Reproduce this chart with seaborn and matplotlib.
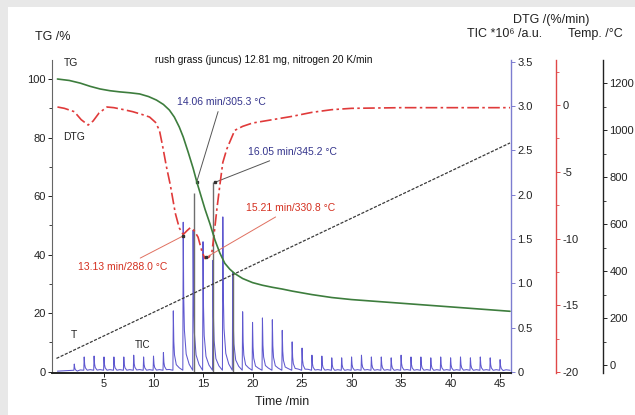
import matplotlib
matplotlib.use("Agg")

import pandas as pd
import matplotlib.pyplot as plt
import seaborn as sns
from matplotlib.patches import Rectangle
from matplotlib.ticker import MultipleLocator, FuncFormatter

# TG curve, mass in %
tg_time = [0.3, 1.5, 2.6, 3.6, 4.6, 5.6, 6.6, 7.6, 8.6, 9.5, 10.3, 11.0, 11.6, 12.1,
           12.6, 13.0, 13.5, 14.0, 14.4, 14.8, 15.2, 15.7, 16.2, 16.7, 17.2, 17.7,
           18.2, 19.0, 20.0, 21.0, 22.0, 23.0, 24.0, 26.0, 28.0, 30.0, 32.0, 34.0,
           36.0, 38.0, 40.0, 42.0, 44.0, 46.0]
tg_mass = [100.0, 99.5, 98.6, 97.5, 96.6, 96.0, 95.6, 95.3, 94.9, 94.0, 92.8, 91.3,
           89.4, 87.0, 83.6, 80.2, 75.0, 69.5, 64.5, 60.0, 55.5, 50.5, 45.0, 40.5,
           37.0, 35.0, 33.5, 31.8, 30.4, 29.5, 28.8, 28.2, 27.5, 26.3, 25.3, 24.6,
           24.1, 23.6, 23.1, 22.6, 22.1, 21.6, 21.1, 20.6]

# DTG curve, %/min
dtg_time = [0.3, 1.0, 2.0, 2.7, 3.4, 3.9, 4.5, 5.3, 6.0, 7.0, 7.9, 8.8, 9.6, 10.2,
            10.6, 10.9, 11.3, 11.7, 12.2, 12.6, 13.0, 13.4, 13.7, 14.1, 14.5, 14.9,
            15.2, 15.6, 15.9, 16.1, 16.4, 16.7, 17.0, 17.4, 17.8, 18.2, 19.0, 20.0,
            22.0, 24.0, 26.0, 28.0, 30.0, 35.0, 40.0, 46.0]
dtg_rate = [-0.15, -0.25, -0.5, -1.1, -1.5, -1.2, -0.6, -0.15, -0.2, -0.35, -0.5,
            -0.7, -0.9, -1.3, -1.9, -3.0, -4.6, -6.0, -8.1, -9.2, -9.7, -9.4, -9.2,
            -9.4, -9.9, -11.0, -11.5, -11.4, -11.0, -9.8, -7.8, -6.0, -4.3, -3.3,
            -2.6, -1.9, -1.6, -1.35, -1.1, -0.85, -0.55, -0.35, -0.25, -0.2, -0.2, -0.2]

# furnace temperature
temp_time = [0.2, 46.0]
temp_degc = [28, 945]

# TIC peaks (one sample per minute), *10^6 a.u.
tic_time = list(range(2, 46))
tic_height = [0.09, 0.17, 0.18, 0.17, 0.17, 0.17, 0.19, 0.17, 0.18, 0.22, 0.69,
              1.69, 1.60, 1.47, 1.26, 1.75, 1.13, 0.68, 0.56, 0.61, 0.59, 0.47,
              0.34, 0.27, 0.19, 0.18, 0.16, 0.16, 0.17, 0.19, 0.17, 0.17, 0.16,
              0.19, 0.17, 0.17, 0.16, 0.17, 0.16, 0.17, 0.16, 0.17, 0.16, 0.14]

# spectra picked for evaluation
mark_time = [14.06, 16.05, 18.0]
mark_height = [2.02, 2.14, 1.13]

W, H = 635, 415

sns.set_theme(style="white")
plt.rcParams["font.family"] = ["Liberation Sans", "DejaVu Sans"]
plt.rcParams["axes.unicode_minus"] = False

fig = plt.figure(figsize=(W / 100, H / 100), dpi=100, facecolor="#e8e8e8")
fig.patches.append(Rectangle((8 / W, 0), 1, 1 - 7 / H, transform=fig.transFigure,
                             facecolor="white", edgecolor="none", zorder=-5))

ax = fig.add_axes([52 / W, 1 - 373 / H, 459 / W, 313 / H])
ax_tic = ax.twinx()
ax_dtg = ax.twinx()
ax_tmp = ax.twinx()
ax.set_zorder(2)
ax.patch.set_visible(False)

# TIC trace built from the peak list (sharp rise, short tail)
xs, ys = [0.3], [0.01]
for t, h in zip(tic_time, tic_height):
    xs += [t - 0.04, t, t + 0.05, t + 0.12, t + 0.3, t + 0.6]
    ys += [0.02, h, 0.5 * h, 0.28 * h, 0.12 * h, 0.02 + 0.04 * h]
xs.append(46.0)
ys.append(0.02)
tic_df = pd.DataFrame({"t": xs, "v": ys})
sns.lineplot(data=tic_df, x="t", y="v", ax=ax_tic, color="#5f58cf", lw=0.75,
             sort=False, estimator=None)
ax_tic.vlines(mark_time, 0, mark_height, color="#6e6e6e", lw=1.0)

sns.lineplot(x=temp_time, y=temp_degc, ax=ax_tmp, color="#3a3a3a", lw=0.9,
             linestyle=(0, (2.5, 1.2)))
sns.lineplot(x=dtg_time, y=dtg_rate, ax=ax_dtg, color="#e03a3a", lw=1.2,
             linestyle=(0, (7, 2, 1.5, 2)))
sns.lineplot(x=tg_time, y=tg_mass, ax=ax, color="#3d7d3d", lw=1.2)

# axes ranges
ax.set_xlim(-0.25, 46.1)
ax.set_ylim(-0.5, 106.5)
ax_tic.set_ylim(-0.011, 3.52)
ax_dtg.set_ylim(-20.07, 3.37)
ax_tmp.set_ylim(-34, 1298)

for a in (ax, ax_tic, ax_dtg, ax_tmp):
    a.set_xlabel("")
    a.set_ylabel("")
    a.grid(False)

# main axes: TG and time
ax.spines["top"].set_visible(False)
ax.spines["right"].set_visible(False)
ax.spines["left"].set_color("#666666")
ax.spines["left"].set_linewidth(0.8)
ax.spines["bottom"].set_color("#222222")
ax.spines["bottom"].set_linewidth(1.4)
ax.set_xticks(range(5, 46, 5))
ax.set_yticks(range(0, 101, 20))
ax.yaxis.set_minor_locator(MultipleLocator(10))
ax.tick_params(axis="both", which="both", direction="out", labelsize=8, pad=1.5,
               colors="#222222")
ax.tick_params(axis="both", which="major", length=3, width=0.7)
ax.tick_params(axis="y", which="minor", length=2, width=0.6, left=True)
ax.tick_params(axis="x", bottom=True)

twins = [(ax_tic, "#7d7dd0", None), (ax_dtg, "#e04848", 1 + 45 / 459),
         (ax_tmp, "#222222", 1 + 92 / 459)]
for a, col, pos in twins:
    for side in ("top", "left", "bottom"):
        a.spines[side].set_visible(False)
    a.spines["right"].set_color(col)
    a.spines["right"].set_linewidth(1.0)
    if pos is not None:
        a.spines["right"].set_position(("axes", pos))
    a.tick_params(axis="y", which="both", direction="out", right=True,
                  labelsize=8, pad=1.5, color=col, labelcolor="#222222")
    a.tick_params(axis="y", which="major", length=3, width=0.7)
    a.tick_params(axis="y", which="minor", length=2, width=0.6)

ax_tic.set_yticks([0, 0.5, 1.0, 1.5, 2.0, 2.5, 3.0, 3.5])
ax_tic.yaxis.set_major_formatter(FuncFormatter(lambda v, p: "0" if v == 0 else f"{v:.1f}"))
ax_dtg.set_yticks([-20, -15, -10, -5, 0])
ax_dtg.yaxis.set_minor_locator(MultipleLocator(2.5))
ax_tmp.set_yticks(range(0, 1201, 200))
ax_tmp.yaxis.set_minor_locator(MultipleLocator(100))


def fx(x, y):
    return x / W, 1 - y / H


# axis titles and curve labels
fig.text(*fx(35, 37), "TG /%", fontsize=9, ha="left", va="center", color="#222222")
fig.text(*fx(513, 20), "DTG /(%/min)", fontsize=9, ha="left", va="center", color="#222222")
fig.text(*fx(467, 34), "TIC *10\u2076 /a.u.", fontsize=9, ha="left", va="center", color="#222222")
fig.text(*fx(568, 34), "Temp. /\u00b0C", fontsize=9, ha="left", va="center", color="#222222")
fig.text(*fx(282, 402), "Time /min", fontsize=9, ha="center", va="center", color="#222222")
fig.text(*fx(264, 60), "rush grass (juncus) 12.81 mg, nitrogen 20 K/min", fontsize=7.3,
         ha="center", va="center", color="#111111")
fig.text(*fx(64, 63), "TG", fontsize=7.5, ha="left", va="center", color="#222222")
fig.text(*fx(63, 137), "DTG", fontsize=7.5, ha="left", va="center", color="#222222")
fig.text(*fx(74, 335), "T", fontsize=7.5, ha="center", va="center", color="#222222")
fig.text(*fx(143, 345), "TIC", fontsize=7, ha="center", va="center", color="#222222")

# peak annotations
navy, red = "#34348c", "#d43020"
notes = [
    (ax_tic, (14.35, 2.14), (221, 102), "14.06 min/305.3 \u00b0C", navy, "#555555"),
    (ax_tic, (16.2, 2.14), (292, 152), "16.05 min/345.2 \u00b0C", navy, "#555555"),
    (ax_dtg, (15.35, -11.4), (291, 208), "15.21 min/330.8 \u00b0C", red, "#e07060"),
    (ax_dtg, (13.0, -9.8), (123, 267), "13.13 min/288.0 \u00b0C", red, "#e07060"),
]
for a, xy, (px, py), label, tcol, lcol in notes:
    a.annotate(label, xy=xy, xytext=(px, H - py), textcoords="figure pixels",
               fontsize=7.5, color=tcol, ha="center", va="center", annotation_clip=False,
               arrowprops=dict(arrowstyle="-", color=lcol, lw=0.7, shrinkA=1, shrinkB=0))
    a.plot([xy[0]], [xy[1]], marker="s", ms=2, color="#333333", zorder=5)

fig.savefig("out.png", dpi=100, facecolor=fig.get_facecolor())
